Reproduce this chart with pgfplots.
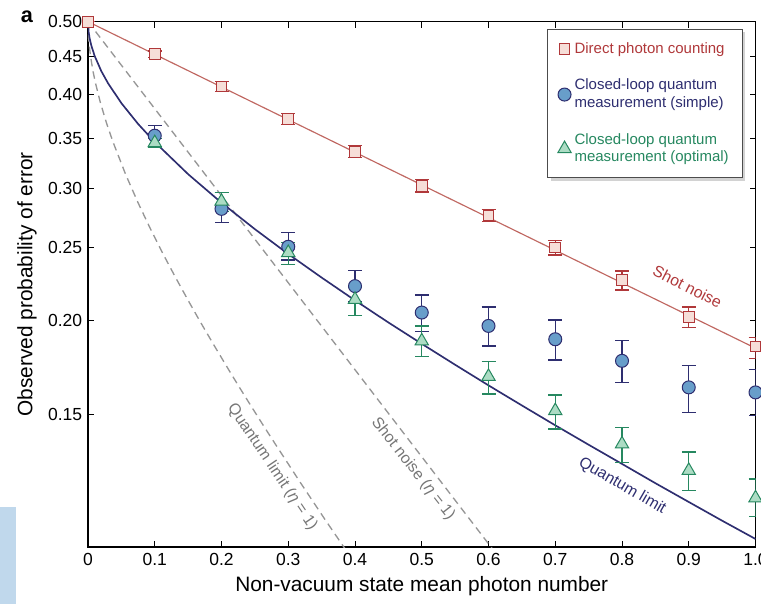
\documentclass[border=0pt]{standalone}
\usepackage{fontspec}
\setmainfont{Liberation Sans}
\usepackage{pgfplots}
\pgfplotsset{compat=1.18}
\usetikzlibrary{shadows}

\definecolor{snred}{RGB}{176,56,58}
\definecolor{snline}{RGB}{192,104,98}
\definecolor{snfill}{RGB}{246,222,216}
\definecolor{qnavy}{RGB}{46,46,112}
\definecolor{qblue}{RGB}{104,158,202}
\definecolor{qgreen}{RGB}{38,136,96}
\definecolor{qgfill}{RGB}{172,220,196}
\definecolor{dgrey}{RGB}{150,150,150}
\definecolor{tgrey}{RGB}{118,118,118}

\begin{document}
\begin{tikzpicture}
\begin{axis}[
    name=ax,
    scale only axis,
    width=400.5pt, height=315.2pt,
    ymode=log,
    xmin=0, xmax=1, ymin=0.1, ymax=0.5,
    xtick={0,0.1,...,1.0},
    xticklabels={0,0.1,0.2,0.3,0.4,0.5,0.6,0.7,0.8,0.9,1.0},
    ytick={0.15,0.2,0.25,0.3,0.35,0.4,0.45,0.5},
    yticklabels={0.15,0.20,0.25,0.30,0.35,0.40,0.45,0.50},
    minor y tick num=0,
    tick align=inside,
    major tick length=3.6pt,
    axis line style={line width=0.9pt},
    tick style={line width=0.6pt, black},
    ticklabel style={font=\fontsize{10.5}{12.5}\selectfont},
    /pgf/number format/assume math mode=true,
    xlabel={Non-vacuum state mean photon number},
    ylabel={Observed probability of error},
    label style={font=\fontsize{12.5}{15}\selectfont},
    legend style={at={(0.9805,0.9867)}, anchor=north east,
        draw=black!70, fill=white, line width=0.5pt,
        drop shadow={shadow xshift=2pt, shadow yshift=-2pt, fill=black!35},
        font=\fontsize{9}{10.5}\selectfont,
        cells={align=left}, row sep=10pt, inner xsep=6pt, inner ysep=6pt},
    legend cell align=left,
]
% theory curves
\addplot[snline, line width=0.7pt, forget plot] coordinates {(0,0.5) (1,0.1839)};
\addplot[dgrey, line width=0.8pt, dash pattern=on 4.5pt off 3pt, forget plot]
    coordinates {(0,0.5) (0.65,0.0884)};
\addplot[dgrey, line width=0.8pt, dash pattern=on 4.5pt off 3pt, forget plot]
    table {
    x y
    0 0.5
    0.000375 0.4842
    0.0009375 0.4750
    0.001875 0.4647
    0.00375 0.4501
    0.0075 0.4296
    0.01125 0.4141
    0.01875 0.3896
    0.028125 0.3656
    0.0375 0.3458
    0.05625 0.3134
    0.075 0.2871
    0.09375 0.2648
    0.1125 0.2454
    0.13125 0.2283
    0.15 0.2129
    0.16875 0.1990
    0.1875 0.1864
    0.20625 0.1748
    0.225 0.1641
    0.24375 0.1543
    0.2625 0.1452
    0.28125 0.1368
    0.3 0.1290
    0.31875 0.1216
    0.3375 0.1148
    0.35625 0.1084
    0.375 0.1025
    0.4125 0.0916
    };
\addplot[qnavy, line width=1pt, forget plot]
    table {
    x y
    0 0.5
    0.001 0.4842
    0.0025 0.4750
    0.005 0.4647
    0.01 0.4501
    0.02 0.4296
    0.03 0.4141
    0.05 0.3896
    0.075 0.3656
    0.1 0.3458
    0.15 0.3134
    0.2 0.2871
    0.25 0.2648
    0.3 0.2454
    0.35 0.2283
    0.4 0.2129
    0.45 0.1990
    0.5 0.1864
    0.55 0.1748
    0.6 0.1641
    0.65 0.1543
    0.7 0.1452
    0.75 0.1368
    0.8 0.1290
    0.85 0.1216
    0.9 0.1148
    0.95 0.1084
    1.0 0.1025
    };
% measured data
\addplot[only marks, mark=square*, mark size=3.2pt,
    mark options={draw=snred, fill=snfill, line width=0.6pt},
    error bars/.cd, y dir=both, y explicit,
    error bar style={snred, line width=0.7pt},
    error mark options={rotate=90, mark size=4.2pt, snred, line width=0.7pt}]
    table[x=x, y=y, y error plus=ep, y error minus=em] {
    x y ep em
    0 0.5 0 0
    0.1 0.4526 0.0045 0.0050
    0.2 0.4099 0.0066 0.0060
    0.3 0.3710 0.0062 0.0064
    0.4 0.3355 0.0063 0.0059
    0.5 0.3024 0.0056 0.0057
    0.6 0.2761 0.0051 0.0053
    0.7 0.2504 0.0054 0.0057
    0.8 0.2266 0.0063 0.0068
    0.9 0.2024 0.0062 0.0065
    1.0 0.1848 0.0052 0.0066
    };
\addlegendentry[text=snred]{Direct photon counting}
\addplot[only marks, mark=*, mark size=3.9pt,
    mark options={draw=qnavy, fill=qblue, line width=0.6pt},
    error bars/.cd, y dir=both, y explicit,
    error bar style={qnavy, line width=0.7pt},
    error mark options={rotate=90, mark size=4.2pt, qnavy, line width=0.7pt}]
    table[x=x, y=y, y error plus=ep, y error minus=em] {
    x y ep em
    0.1 0.3526 0.0113 0.0116
    0.2 0.2818 0.0147 0.0118
    0.3 0.2509 0.0110 0.0100
    0.4 0.2224 0.0110 0.0102
    0.5 0.2051 0.0113 0.0116
    0.6 0.1969 0.0117 0.0117
    0.7 0.1890 0.0115 0.0116
    0.8 0.1769 0.0115 0.0115
    0.9 0.1631 0.0111 0.0120
    1.0 0.1606 0.0118 0.0111
    };
\addlegendentry[text=qnavy]{Closed-loop quantum\\measurement (simple)}
\addplot[only marks, mark=triangle*, mark size=4.6pt,
    mark options={draw=qgreen, fill=qgfill, line width=0.6pt},
    error bars/.cd, y dir=both, y explicit,
    error bar style={qgreen, line width=0.7pt},
    error mark options={rotate=90, mark size=4.2pt, qgreen, line width=0.7pt}]
    table[x=x, y=y, y error plus=ep, y error minus=em] {
    x y ep em
    0.1 0.3450 0.0050 0.0050
    0.2 0.2883 0.0080 0.0090
    0.3 0.2464 0.0081 0.0087
    0.4 0.2135 0.0083 0.0101
    0.5 0.1880 0.0089 0.0087
    0.6 0.1686 0.0078 0.0088
    0.7 0.1518 0.0075 0.0082
    0.8 0.1371 0.0072 0.0077
    0.9 0.1264 0.0074 0.0075
    1.0 0.1162 0.0070 0.0065
    };
\addlegendentry[text=qgreen]{Closed-loop quantum\\measurement (optimal)}
% curve labels
\node[snred, rotate=-27, font=\fontsize{9.5}{11}\selectfont] at (axis cs:0.898,0.2222) {Shot noise};
\node[qnavy, rotate=-30, font=\fontsize{9.5}{11}\selectfont] at (axis cs:0.8006,0.1206) {Quantum limit};
\node[tgrey, rotate=-56, font=\fontsize{9.5}{11}\selectfont] at (axis cs:0.276,0.1278) {Quantum limit ({\itshape η} = 1)};
\node[tgrey, rotate=-52, font=\fontsize{9.5}{11}\selectfont] at (axis cs:0.487,0.1270) {Shot noise ({\itshape η} = 1)};
\end{axis}
\node[font=\bfseries\fontsize{13}{15}\selectfont] at ([xshift=-36.6pt, yshift=2.8pt]ax.north west) {a};
\fill[fill={rgb,255:red,192;green,216;blue,236}] ([xshift=-52.8pt, yshift=-34.2pt]ax.south west) rectangle ([xshift=-43pt, yshift=24pt]ax.south west);
\pgfresetboundingbox
\path[use as bounding box] ([xshift=-52.8pt, yshift=-34.2pt]ax.south west) rectangle ([xshift=3.3pt, yshift=13pt]ax.north east);
\end{tikzpicture}
\end{document}
